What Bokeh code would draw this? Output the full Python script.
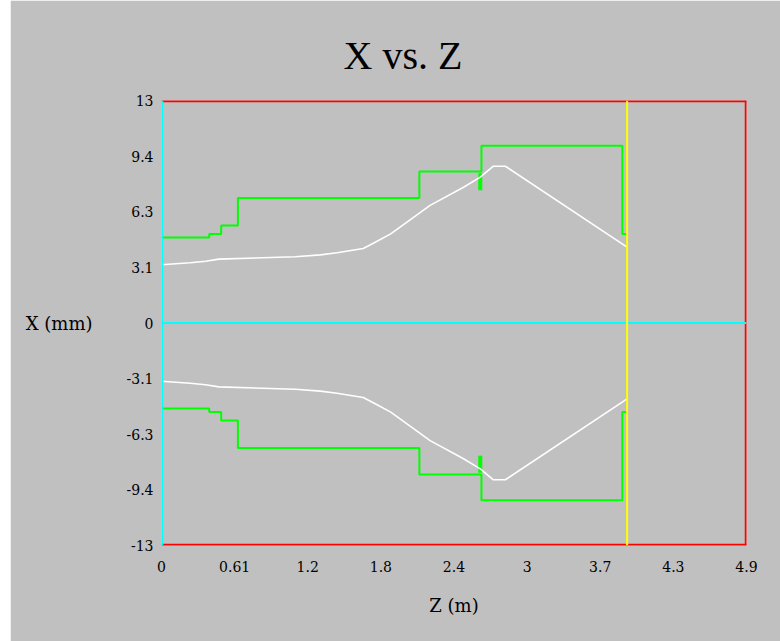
from bokeh.plotting import figure
from bokeh.models import Range1d, Span, FixedTicker, Spacer
from bokeh.layouts import row
from bokeh.embed import file_html
from bokeh.resources import INLINE

# ---- data ----
z_ticks = [0, 0.6125, 1.225, 1.8375, 2.45, 3.0625, 3.675, 4.2875, 4.9]
z_tick_labels = ["0", "0.61", "1.2", "1.8", "2.4", "3", "3.7", "4.3", "4.9"]
x_ticks = [-13, -9.75, -6.5, -3.25, 0, 3.25, 6.5, 9.75, 13]
x_tick_labels = ["-13", "-9.4", "-6.3", "-3.1", "0", "3.1", "6.3", "9.4", "13"]

# aperture (green), step profile
aper_z = [0.0, 0.40, 0.50, 0.64, 2.16, 2.68, 3.86, 3.90]
aper_x = [5.0, 5.2, 5.7, 7.3, 8.85, 10.35, 5.2, 5.2]

# small thick aperture mark
mark_z = [2.67]
mark_x0 = [7.75]
mark_x1 = [8.75]

# beam envelope (white)
env_z = [0.0, 0.24, 0.37, 0.48, 1.12, 1.33, 1.47, 1.69, 1.79, 1.92, 2.25, 2.53, 2.67, 2.78, 2.88, 3.90]
env_x = [3.40, 3.52, 3.61, 3.73, 3.87, 3.98, 4.10, 4.35, 4.72, 5.21, 6.87, 7.93, 8.52, 9.16, 9.16, 4.43]

z_end = 3.9  # yellow marker line

BG = "#c0c0c0"
TFONT = "Liberation Serif"
FONT = "DejaVu Serif"

p = figure(width=770, height=641, output_backend="svg", toolbar_location=None,
           x_range=Range1d(0, 4.9), y_range=Range1d(-13, 13),
           min_border_left=151, min_border_right=34, min_border_top=100, min_border_bottom=96,
           background_fill_color=BG, border_fill_color=BG, outline_line_color=None)

p.title.text = "X vs. Z"
p.title.text_font = TFONT
p.title.text_font_size = "40px"
p.title.text_font_style = "normal"
p.title.text_color = "black"
p.title.align = "left"
p.title.offset = 182
p.title.standoff = 45

p.grid.visible = False

for ax in (p.xaxis[0], p.yaxis[0]):
    ax.axis_line_color = None
    ax.major_tick_line_color = None
    ax.minor_tick_line_color = None
    ax.major_tick_out = 0
    ax.major_tick_in = 0
    ax.major_label_text_font = FONT
    ax.major_label_text_font_size = "14px"
    ax.major_label_text_color = "black"
    ax.axis_label_text_font = FONT
    ax.axis_label_text_font_size = "18px"
    ax.axis_label_text_font_style = "normal"
    ax.axis_label_text_color = "black"

p.xaxis.ticker = FixedTicker(ticks=z_ticks)
p.xaxis.major_label_overrides = {t: l for t, l in zip(z_ticks, z_tick_labels)}
p.xaxis.major_label_standoff = 15
p.xaxis.axis_label = "Z (m)"
p.xaxis.axis_label_standoff = 20

p.yaxis.ticker = FixedTicker(ticks=x_ticks)
p.yaxis.major_label_overrides = {t: l for t, l in zip(x_ticks, x_tick_labels)}
p.yaxis.major_label_standoff = 8
p.yaxis.axis_label = "X (mm)"
p.yaxis.axis_label_orientation = "horizontal"
p.yaxis.axis_label_standoff = 31

# frame lines (edge lines doubled in width since half falls outside the frame)
for loc, dim in ((13, "width"), (-13, "width"), (4.9, "height")):
    p.add_layout(Span(location=loc, dimension=dim, line_color="red", line_width=3.5))
p.add_layout(Span(location=0, dimension="height", line_color="cyan", line_width=3.5))
p.add_layout(Span(location=0, dimension="width", line_color="cyan", line_width=2))

# aperture
p.step(aper_z, aper_x, mode="after", line_color="lime", line_width=2)
p.step(aper_z, [-v for v in aper_x], mode="after", line_color="lime", line_width=2)
p.segment(mark_z, mark_x0, mark_z, mark_x1, line_color="lime", line_width=4)
p.segment(mark_z, [-v for v in mark_x0], mark_z, [-v for v in mark_x1], line_color="lime", line_width=4)

# beam envelope
p.line(env_z, env_x, line_color="white", line_width=1.6)
p.line(env_z, [-v for v in env_x], line_color="white", line_width=1.6)

p.add_layout(Span(location=z_end, dimension="height", line_color="yellow", line_width=2))

layout = row(Spacer(width=10, height=641), p)
open("out.html", "w").write(file_html(layout, INLINE))
